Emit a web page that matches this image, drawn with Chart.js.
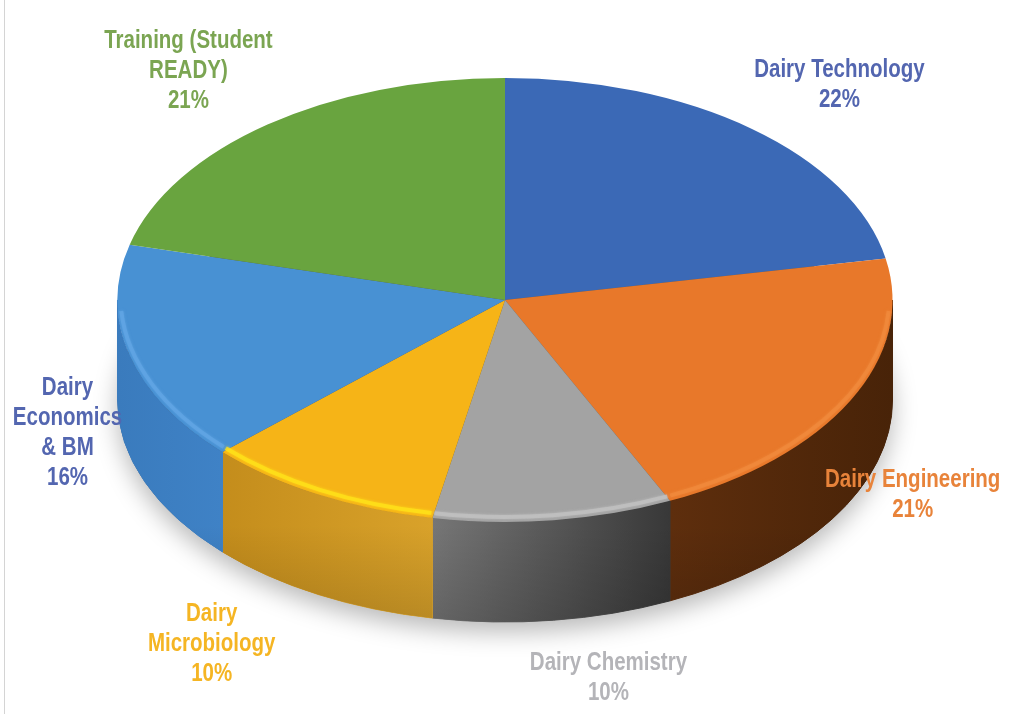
<!DOCTYPE html>
<html><head><meta charset="utf-8">
<script src="https://cdn.jsdelivr.net/npm/chart.js@4.4.0/dist/chart.umd.min.js"></script>
<style>
html,body{margin:0;padding:0;background:#fff;overflow:hidden}
#wrap{position:relative;width:1009px;height:714px}
#edge{position:absolute;left:4px;top:0;width:1px;height:714px;background:#d4d4d4}
</style></head>
<body><div id="wrap"><canvas id="c" width="1009" height="714"></canvas><div id="edge"></div></div>
<script>
// ---- data ----
const categories = ['Dairy Technology','Dairy Engineering','Dairy Chemistry','Dairy Microbiology','Dairy Economics & BM','Training (Student READY)'];
const shares = [22, 21, 10, 10, 16, 21];
const nameLines = [['Dairy Technology'],['Dairy Engineering'],['Dairy Chemistry'],['Dairy','Microbiology'],['Dairy','Economics','& BM'],['Training (Student','READY)']];

// ---- styles ----
const topColors   = ['#3B69B6','#E8782A','#A3A3A3','#F6B417','#4891D3','#69A43F'];
const sideColors  = [['#2c4f8a','#24406f'],['#5e2e0d','#482308'],['#767676','#383838'],['#c48d1c','#d9a22a'],['#3a7bbd','#3f82c6'],['#4f7b2f','#456c29']];
const rimColors   = ['#5a86cf','#f08a3c','#c2c2c2','#ffe21a','#62a6e4','#86c05a'];
const labelColors = ['#5366B0','#E8833A','#B4B4B8','#F5B523','#5366B0','#7BA552'];

const pie3d = {
  id: 'pie3d',
  beforeDatasetsDraw(chart, args, opts) {
    const ctx = chart.ctx;
    const arcs = chart.getDatasetMeta(0).data;
    const cx = arcs[0].x, cy = arcs[0].y, ry = arcs[0].outerRadius, rx = ry * opts.stretch, d = opts.depth;
    // soft shadow
    ctx.save();
    ctx.shadowColor = 'rgba(0,0,0,0.28)'; ctx.shadowBlur = 24; ctx.shadowOffsetY = 10;
    ctx.fillStyle = '#555';
    ctx.beginPath(); ctx.ellipse(cx, cy + d, rx, ry, 0, 0, Math.PI * 2); ctx.fill();
    ctx.restore();
    // side walls
    arcs.forEach((arc, i) => {
      const s = Math.max(arc.startAngle, 0), e = Math.min(arc.endAngle, Math.PI);
      if (e <= s) return;
      ctx.save();
      ctx.beginPath();
      ctx.ellipse(cx, cy, rx, ry, 0, s, e, false);
      ctx.lineTo(cx + rx * Math.cos(e), cy + ry * Math.sin(e) + d);
      ctx.ellipse(cx, cy + d, rx, ry, 0, e, s, true);
      ctx.closePath();
      const xl = cx + rx * Math.cos(e), xr = cx + rx * Math.cos(s);
      const g = ctx.createLinearGradient(xl, 0, xr, 0);
      g.addColorStop(0, sideColors[i][0]); g.addColorStop(1, sideColors[i][1]);
      ctx.fillStyle = g; ctx.fill();
      ctx.strokeStyle = g; ctx.lineWidth = 1; ctx.stroke();
      const v = ctx.createLinearGradient(0, cy, 0, cy + ry + d);
      v.addColorStop(0, 'rgba(255,255,255,0.0)');
      v.addColorStop(0.7, 'rgba(0,0,0,0.0)');
      v.addColorStop(1, 'rgba(0,0,0,0.15)');
      ctx.fillStyle = v; ctx.fill();
      ctx.restore();
    });
    // squash the flat pie into an ellipse
    ctx.save();
    ctx.translate(cx, 0); ctx.scale(opts.stretch, 1); ctx.translate(-cx, 0);
  },
  afterDatasetsDraw(chart, args, opts) {
    const ctx = chart.ctx;
    ctx.restore();
    const arcs = chart.getDatasetMeta(0).data;
    const cx = arcs[0].x, cy = arcs[0].y, ry = arcs[0].outerRadius, rx = ry * opts.stretch;
    // rim highlight on the front edge
    arcs.forEach((arc, i) => {
      const s = Math.max(arc.startAngle, 0.06), e = Math.min(arc.endAngle, Math.PI - 0.06);
      if (e <= s) return;
      ctx.save();
      ctx.beginPath();
      ctx.ellipse(cx, cy - 3, rx - 3, ry - 2, 0, s + 0.004, e - 0.004, false);
      ctx.strokeStyle = rimColors[i]; ctx.lineWidth = 4;
      ctx.shadowColor = rimColors[i]; ctx.shadowBlur = 3;
      ctx.globalAlpha = 0.75;
      ctx.stroke();
      ctx.restore();
    });
    // labels
    ctx.save();
    ctx.font = opts.font;
    ctx.textAlign = 'center'; ctx.textBaseline = 'middle';
    arcs.forEach((arc, i) => {
      const lines = nameLines[i].concat([shares[i] + '%']);
      const [nx, ny] = opts.anchors[i];
      const x = cx + nx * rx;
      const y0 = cy + ny * ry - (lines.length - 1) * opts.lineHeight / 2;
      ctx.fillStyle = labelColors[i];
      lines.forEach((t, k) => {
        ctx.save();
        ctx.translate(x, y0 + k * opts.lineHeight);
        ctx.scale(opts.narrow, 1);
        ctx.fillText(t, 0, 0);
        ctx.restore();
      });
    });
    ctx.restore();
  }
};

new Chart(document.getElementById('c'), {
  type: 'pie',
  data: {
    labels: categories,
    datasets: [{ data: shares, backgroundColor: topColors, borderWidth: 0, hoverOffset: 0, clip: false }]
  },
  options: {
    responsive: false, animation: false, events: [],
    layout: { padding: { top: 78, bottom: 192, left: 100, right: 99 } },
    plugins: {
      legend: { display: false },
      tooltip: { enabled: false },
      pie3d: {
        stretch: 1.7455, depth: 100,
        font: 'bold 25px "Liberation Sans", Arial, sans-serif',
        narrow: 0.82,
        lineHeight: 30,
        anchors: [[0.863, -0.968], [1.052, 0.878], [0.267, 1.703], [-0.757, 1.55], [-1.129, 0.599], [-0.817, -1.032]]
      }
    }
  },
  plugins: [pie3d]
});
</script>
</body></html>
